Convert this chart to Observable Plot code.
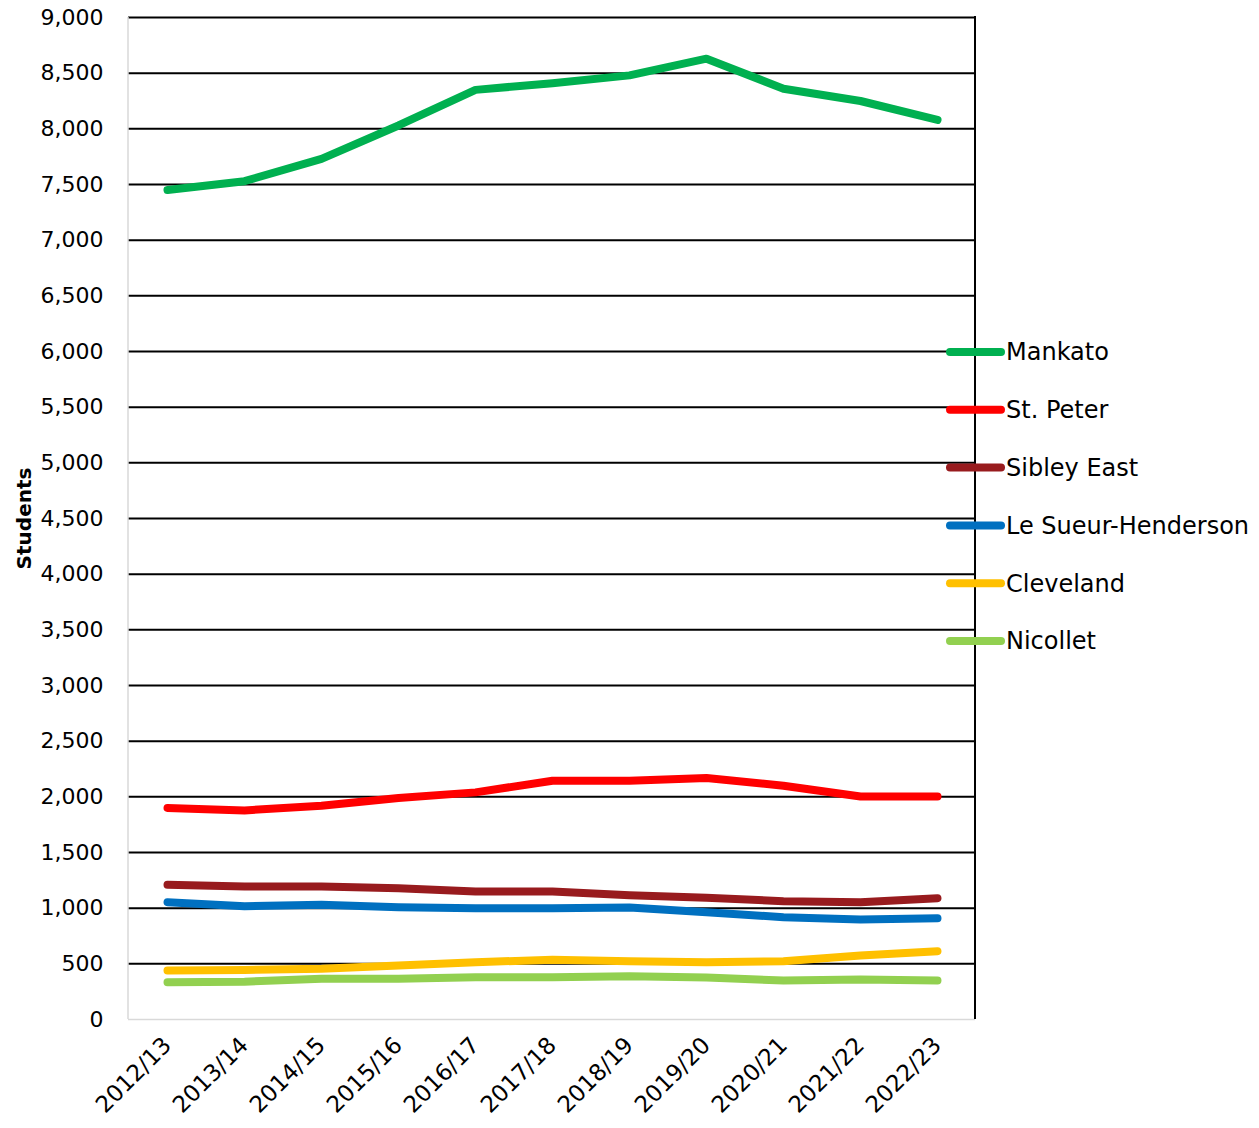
<!DOCTYPE html>
<html>
<head>
<meta charset="utf-8">
<script src="https://cdn.jsdelivr.net/npm/d3@7"></script>
<script src="https://cdn.jsdelivr.net/npm/@observablehq/plot@0.6"></script>
<style>
  body { margin: 0; background: #fff; font-family: "DejaVu Sans", sans-serif; }
  #chart { position: relative; width: 1259px; height: 1128px; overflow: hidden; }
  #chart svg [aria-label="y-axis label"] text { font-weight: bold; font-size: 20px; }
  #legend { position: absolute; left: 944px; top: 330px; }
</style>
</head>
<body>
<div id="chart"></div>
<script>
const years = ['2012/13', '2013/14', '2014/15', '2015/16', '2016/17', '2017/18',
  '2018/19', '2019/20', '2020/21', '2021/22', '2022/23']

const districts = ['Mankato', 'St. Peter', 'Sibley East', 'Le Sueur-Henderson', 'Cleveland', 'Nicollet']
const colores = ['#00b050', '#ff0000', '#981b1e', '#0070c0', '#ffc000', '#92d050']

const mankato = [7450, 7530, 7730, 8030, 8350, 8410, 8480, 8630, 8360, 8250, 8080]
const stPeter = [1900, 1878, 1920, 1990, 2040, 2145, 2145, 2170, 2100, 2003, 2003]
const sibleyEast = [1210, 1195, 1195, 1180, 1150, 1150, 1115, 1093, 1063, 1054, 1090]
const leSueur = [1054, 1018, 1030, 1009, 1000, 1000, 1005, 964, 919, 898, 910]
const cleveland = [440, 445, 455, 485, 515, 536, 524, 515, 524, 575, 614]
const nicollet = [335, 340, 365, 365, 380, 380, 389, 377, 350, 359, 350]

const yTicks = [0, 500, 1000, 1500, 2000, 2500, 3000, 3500, 4000, 4500, 5000,
  5500, 6000, 6500, 7000, 7500, 8000, 8500, 9000]

const series = [mankato, stPeter, sibleyEast, leSueur, cleveland, nicollet]
const data = series.flatMap((vals, i) => vals.map((v, j) => ({ district: districts[i], year: years[j], students: v })))

const chart = Plot.plot({
  width: 1259,
  height: 1128,
  marginLeft: 128,
  marginRight: 284,
  marginTop: 17,
  marginBottom: 109,
  style: { fontFamily: '"DejaVu Sans", sans-serif', fontSize: '22px', color: '#000', background: '#fff' },
  x: { type: 'point', domain: years, padding: 0.5, label: null },
  y: { domain: [0, 9000], label: null },
  color: { domain: districts, range: colores },
  marks: [
    Plot.ruleY(yTicks.filter(d => d > 0), { stroke: '#000', strokeWidth: 2 }),
    Plot.ruleY([0], { stroke: '#d9d9d9', strokeWidth: 1.5 }),
    Plot.axisY(yTicks, {
      tickSize: 0, tickPadding: 25, tickFormat: d3.format(','),
      label: 'Students', labelAnchor: 'center', labelArrow: 'none', labelOffset: 112
    }),
    Plot.axisX({ tickSize: 0, tickRotate: -45, tickPadding: 22, fontSize: 23 }),
    Plot.line(data, {
      x: 'year', y: 'students', z: 'district', stroke: 'district',
      strokeWidth: 8, strokeLinecap: 'round', strokeLinejoin: 'round'
    })
  ]
})

// bordes del área: izquierdo gris claro, derecho negro
const xr = chart.scale('x').range
const yr = chart.scale('y').range
const svg = d3.select(chart)
svg.append('line')
  .attr('x1', xr[0]).attr('x2', xr[0]).attr('y1', yr[0]).attr('y2', yr[1])
  .attr('stroke', '#d9d9d9').attr('stroke-width', 1.5)
svg.append('line')
  .attr('x1', xr[1]).attr('x2', xr[1]).attr('y1', yr[0]).attr('y2', yr[1] - 1)
  .attr('stroke', '#000').attr('stroke-width', 2)

d3.select('#chart').append(() => chart)

// leyenda
const leg = d3.select('#chart').append('svg').attr('id', 'legend')
  .attr('width', 315).attr('height', 330)
const items = leg.selectAll('g').data(districts).join('g')
  .attr('transform', (d, i) => `translate(0, ${22 + i * 57.8})`)
items.append('line')
  .attr('x1', 6).attr('x2', 57).attr('y1', 0).attr('y2', 0)
  .attr('stroke', (d, i) => colores[i]).attr('stroke-width', 8).attr('stroke-linecap', 'round')
items.append('text')
  .attr('x', 62).attr('y', 0).attr('dy', '0.35em')
  .attr('font-family', '"DejaVu Sans", sans-serif').attr('font-size', 24)
  .text(d => d)
</script>
</body>
</html>
